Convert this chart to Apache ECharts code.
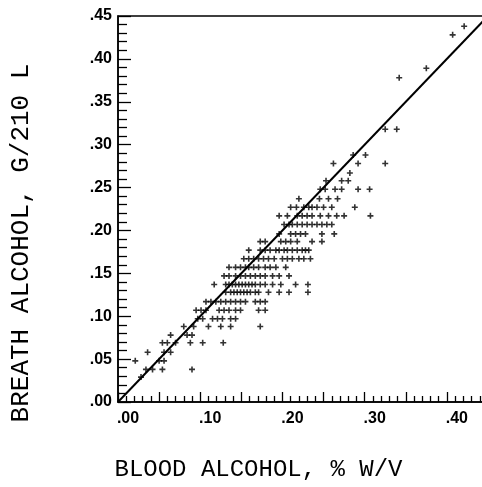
<!DOCTYPE html>
<html>
<head>
<meta charset="utf-8">
<script src="https://cdn.jsdelivr.net/npm/echarts@6/dist/echarts.min.js"></script>
<style>
  html, body { margin: 0; padding: 0; background: #fff; overflow: hidden; }
  #chart { width: 500px; height: 487px; }
</style>
</head>
<body>
<div id="chart"></div>
<script>
// breath alcohol levels (rows of points), and the blood alcohol values on each row
var breathLevels = [0.438, 0.428, 0.389, 0.378, 0.318, 0.288, 0.278, 0.267, 0.258, 0.248,
  0.237, 0.227, 0.217, 0.207, 0.196, 0.187, 0.177, 0.167, 0.157, 0.147,
  0.137, 0.128, 0.117, 0.107, 0.097, 0.088, 0.078, 0.069, 0.058, 0.048, 0.038, 0.029];
var bloodByLevel = [
  [0.421],
  [0.407],
  [0.375],
  [0.342],
  [0.325, 0.339],
  [0.286, 0.301],
  [0.262, 0.292, 0.325],
  [0.282],
  [0.253, 0.272, 0.280],
  [0.246, 0.252, 0.264, 0.272, 0.292, 0.306],
  [0.220, 0.245, 0.256, 0.267],
  [0.210, 0.217, 0.226, 0.232, 0.236, 0.242, 0.250, 0.260, 0.288],
  [0.196, 0.206, 0.218, 0.224, 0.230, 0.236, 0.246, 0.256, 0.266, 0.275, 0.307],
  [0.202, 0.208, 0.212, 0.218, 0.224, 0.230, 0.236, 0.242, 0.248, 0.254, 0.260],
  [0.196, 0.210, 0.216, 0.222, 0.228, 0.248, 0.263],
  [0.173, 0.179, 0.198, 0.204, 0.210, 0.218, 0.236, 0.248],
  [0.159, 0.173, 0.179, 0.185, 0.192, 0.196, 0.202, 0.206, 0.212, 0.218, 0.224, 0.228, 0.232],
  [0.153, 0.159, 0.165, 0.171, 0.177, 0.183, 0.190, 0.200, 0.206, 0.212, 0.220, 0.226, 0.234],
  [0.135, 0.143, 0.149, 0.155, 0.159, 0.165, 0.171, 0.179, 0.185, 0.192, 0.204],
  [0.129, 0.135, 0.143, 0.149, 0.155, 0.161, 0.167, 0.173, 0.179, 0.188, 0.196, 0.208],
  [0.117, 0.131, 0.135, 0.139, 0.143, 0.147, 0.151, 0.155, 0.159, 0.163, 0.167, 0.173, 0.179, 0.188, 0.198, 0.216, 0.231],
  [0.131, 0.137, 0.141, 0.145, 0.149, 0.153, 0.157, 0.161, 0.167, 0.171, 0.183, 0.196, 0.208, 0.231],
  [0.107, 0.113, 0.119, 0.125, 0.131, 0.137, 0.143, 0.149, 0.155, 0.167, 0.173, 0.179],
  [0.095, 0.101, 0.107, 0.123, 0.129, 0.135, 0.143, 0.149, 0.171, 0.179],
  [0.097, 0.103, 0.115, 0.121, 0.127, 0.137, 0.143],
  [0.080, 0.092, 0.110, 0.125, 0.137, 0.173],
  [0.064, 0.084, 0.090],
  [0.054, 0.060, 0.070, 0.088, 0.103, 0.128],
  [0.036, 0.056, 0.064],
  [0.021, 0.050, 0.056],
  [0.034, 0.042, 0.054, 0.090],
  [0.028]
];
// fitted line end points (blood, breath)
var fitLine = [[0, 0], [0.45, 0.45]];

(function () {
  var myChart = echarts.init(document.getElementById("chart"));

  var points = [];
  breathLevels.forEach(function (y, i) {
    bloodByLevel[i].forEach(function (x) { points.push([x, y]); });
  });

  function fmt(v) {
    return v.toFixed(2).replace(/^0/, "");
  }

  var labelFont = { color: "#000", fontFamily: "Liberation Sans", fontWeight: "bold", fontSize: 16 };
  var nameFont = { color: "#000", fontFamily: "Liberation Mono", fontSize: 24 };
  var plus = "path://M2.2,0H3.8V2.2H6V3.8H3.8V6H2.2V3.8H0V2.2H2.2Z";

  var option = {
    animation: false,
    grid: {
      left: 117, top: 16, width: 371, height: 394,
      show: true, borderColor: "#000", borderWidth: 1.5
    },
    xAxis: {
      type: "value", min: 0, max: 0.45, interval: 0.05,
      name: "BLOOD ALCOHOL, % W/V",
      nameLocation: "middle", nameGap: 56,
      nameTextStyle: Object.assign({ padding: [0, 89, 0, 0] }, nameFont),
      axisLine: { lineStyle: { color: "#000", width: 1.5 } },
      axisTick: { inside: true, length: 10, lineStyle: { color: "#000", width: 1.3 } },
      minorTick: { show: true, splitNumber: 5, length: 6, lineStyle: { color: "#000", width: 1.3 } },
      splitLine: { show: false },
      axisLabel: Object.assign({
        margin: 9,
        padding: [0, 0, 0, 20],
        formatter: function (v) {
          return Math.round(v * 100) % 10 === 0 ? fmt(v) : "";
        }
      }, labelFont)
    },
    yAxis: {
      type: "value", min: 0, max: 0.45, interval: 0.05,
      name: "BREATH ALCOHOL, G/210 L",
      nameLocation: "middle", nameGap: 84, nameRotate: 90,
      nameTextStyle: Object.assign({ padding: [0, 68, 0, 0], fontSize: 26 }, { color: "#000", fontFamily: "Liberation Mono" }),
      axisLine: { lineStyle: { color: "#000", width: 1.5 } },
      axisTick: { inside: true, length: 13, lineStyle: { color: "#000", width: 1.3 } },
      minorTick: { show: true, splitNumber: 5, length: 9, lineStyle: { color: "#000", width: 1.3 } },
      splitLine: { show: false },
      axisLabel: Object.assign({
        margin: 6,
        padding: [4, 0, 0, 0],
        formatter: fmt
      }, labelFont)
    },
    series: [
      {
        type: "line",
        data: fitLine,
        symbol: "none",
        lineStyle: { color: "#000", width: 2 },
        z: 3
      },
      {
        type: "scatter",
        data: points,
        symbol: plus,
        symbolSize: 6,
        itemStyle: { color: "#000" },
        z: 4
      }
    ]
  };

  myChart.setOption(option);
  window.addEventListener("resize", function () {
    myChart.resize();
  });
})();
</script>
</body>
</html>
